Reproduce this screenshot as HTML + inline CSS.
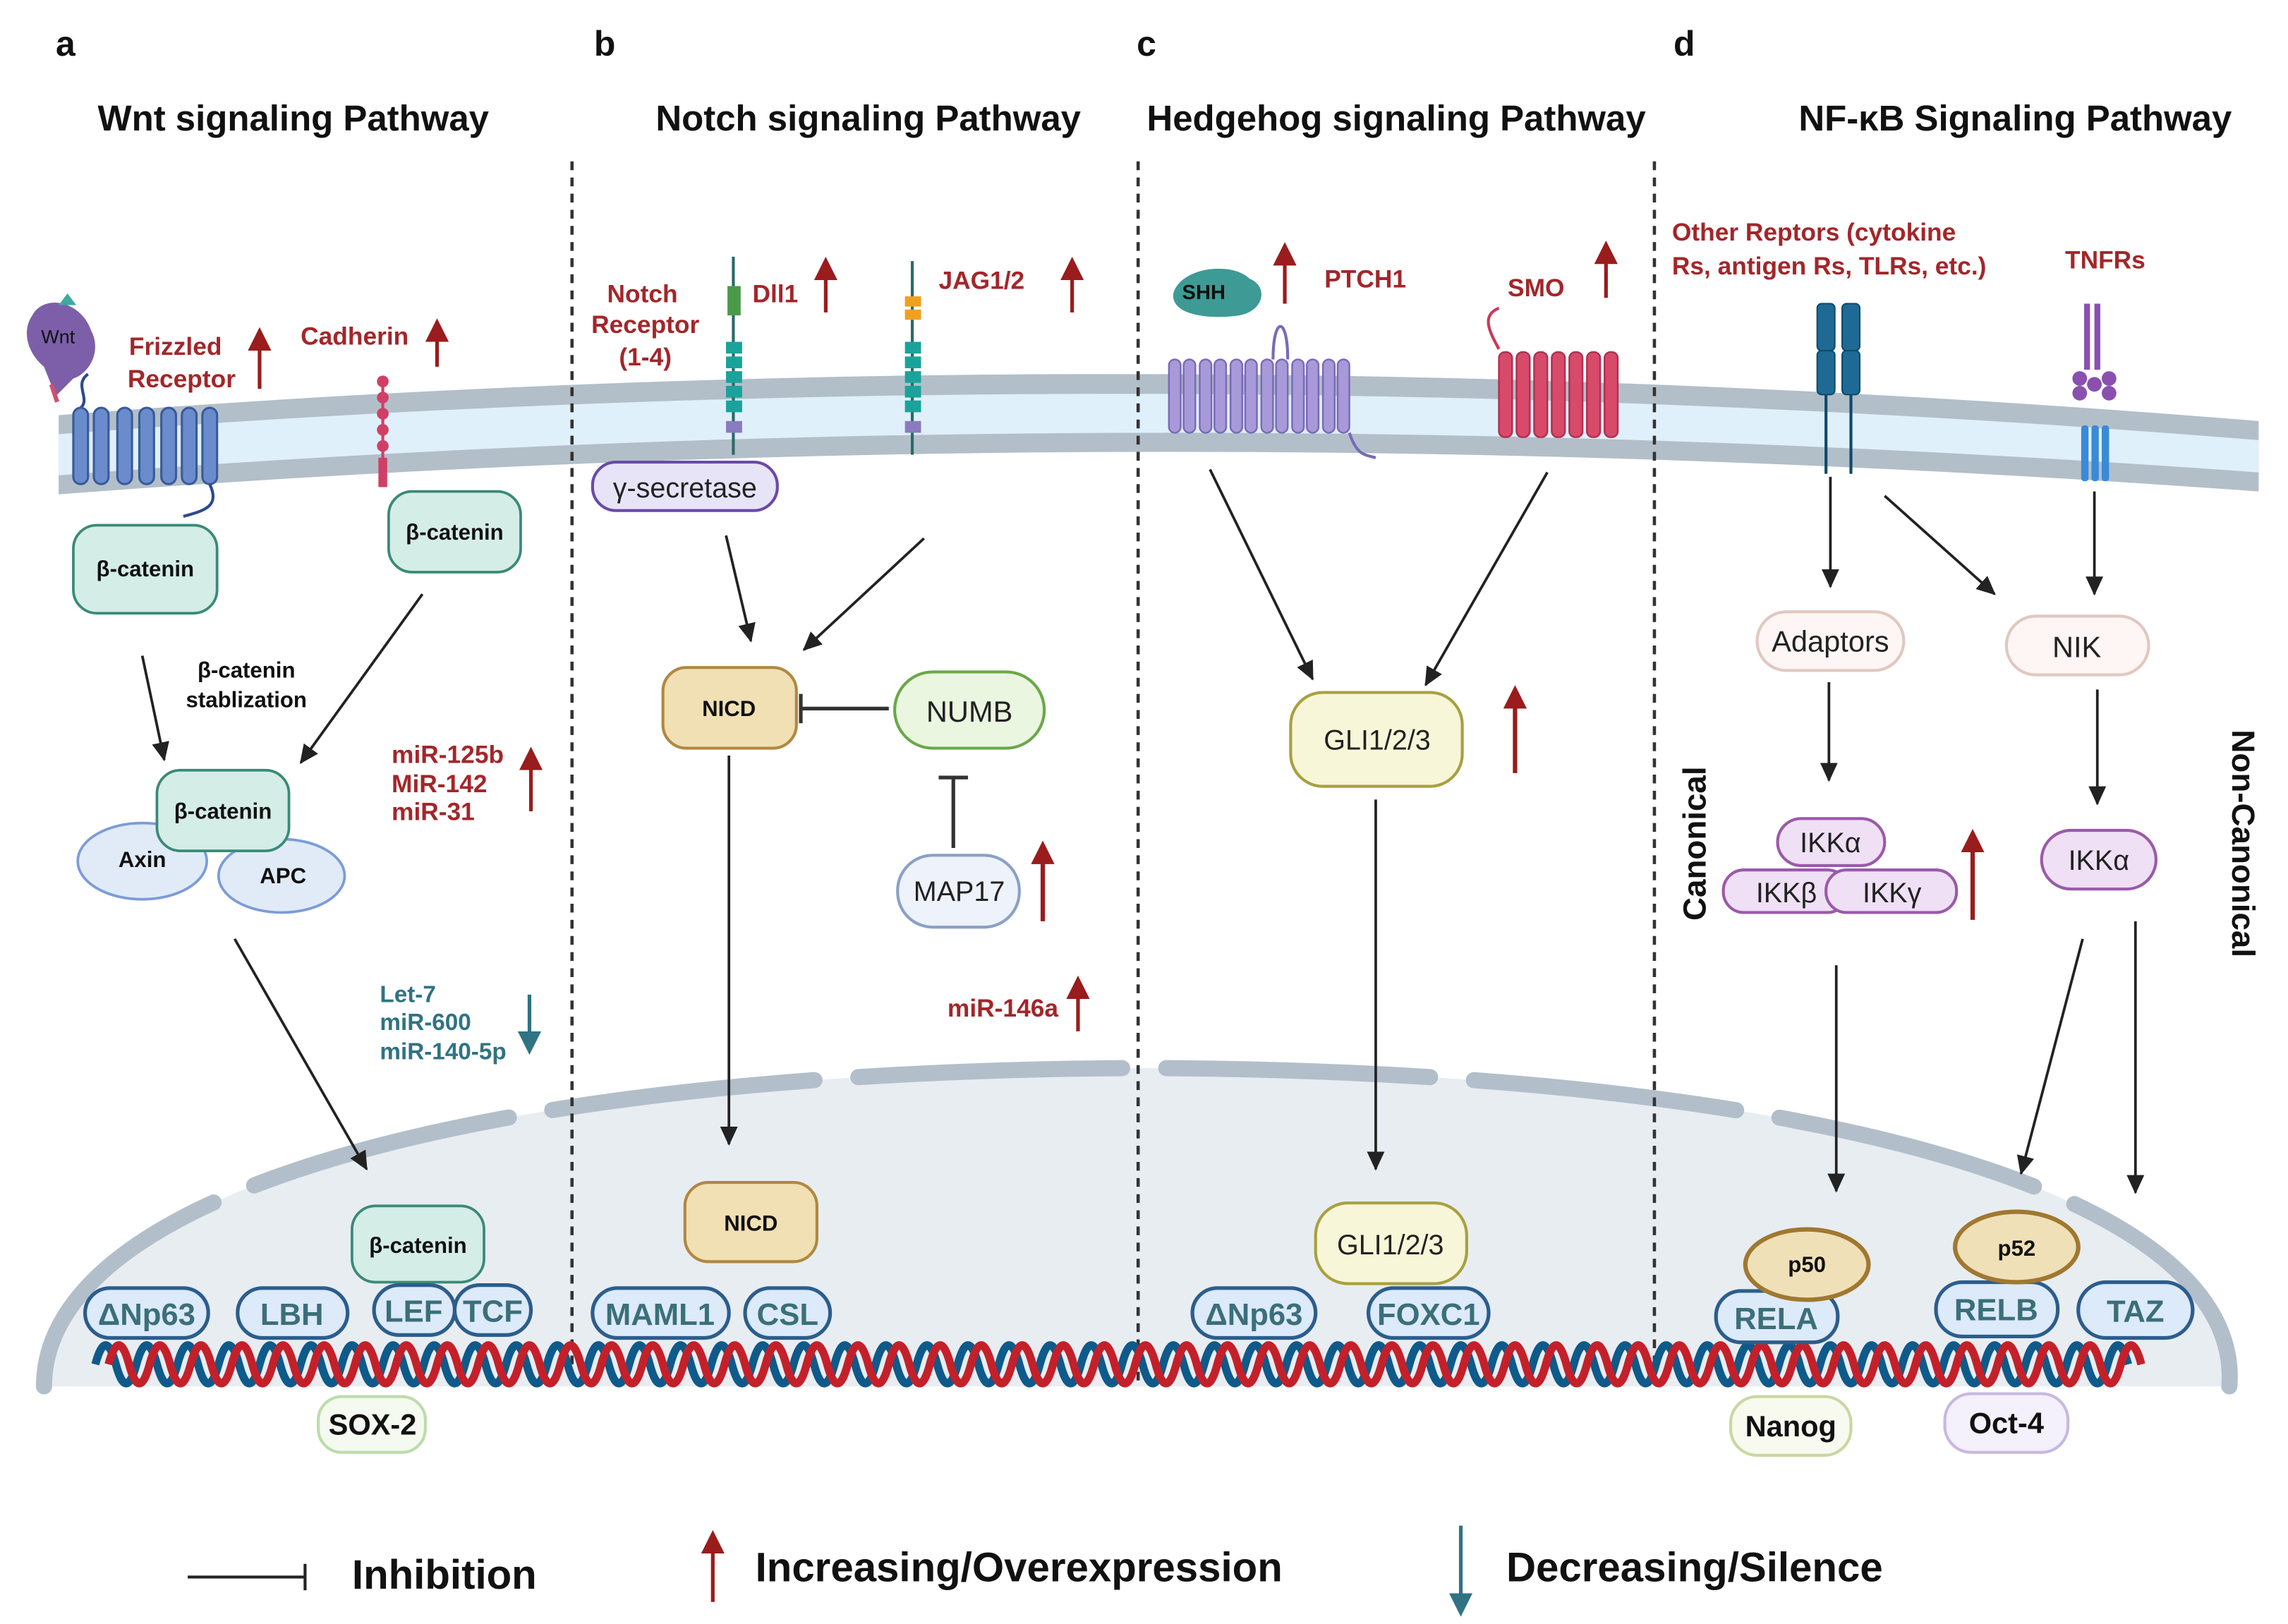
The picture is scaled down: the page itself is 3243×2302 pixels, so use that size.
<!DOCTYPE html>
<html><head><meta charset="utf-8"><style>
html,body{margin:0;padding:0;background:#fff}
svg{display:block}
text{font-family:"Liberation Sans",sans-serif}
.b{font-weight:bold}
.red{fill:#a3262a;font-weight:bold;font-size:17px}
</style></head><body>
<svg width="3243" height="2302" viewBox="0 0 1560 1107" preserveAspectRatio="none" xmlns="http://www.w3.org/2000/svg">
<defs>
<marker id="ah2" markerWidth="14" markerHeight="14" refX="12" refY="7" orient="auto" markerUnits="userSpaceOnUse"><path d="M0,1 L13,7 L0,13 Z" fill="#222"/></marker>
<marker id="rh" markerWidth="16" markerHeight="16" refX="13" refY="8" orient="auto" markerUnits="userSpaceOnUse"><path d="M0,0 L16,8 L0,16 Z" fill="#9a1c1c"/></marker>
<marker id="th" markerWidth="16" markerHeight="16" refX="13" refY="8" orient="auto" markerUnits="userSpaceOnUse"><path d="M0,0 L16,8 L0,16 Z" fill="#2f7384"/></marker>
</defs>
<rect width="1560" height="1107" fill="#fff"/>

<!-- nucleus -->
<path d="M30,945 C30,820 300,730 780,728 C1260,730 1530,820 1520,945 Z" fill="#e8edf2"/>
<path d="M30,945 C30,820 300,730 780,728 C1260,730 1530,820 1520,945" fill="none" stroke="#b2bfca" stroke-width="11" stroke-dasharray="180,30" stroke-linecap="round"/>

<!-- membrane -->
<path d="M40,283 Q780,225 1540,287 L1540,335 Q780,280 40,337 Z" fill="#b2bfc9"/>
<path d="M40,296 Q780,239 1540,300 L1540,322 Q780,267 40,324 Z" fill="#dff0fb"/>

<!-- dotted separators -->
<g stroke="#333" stroke-width="2.2" stroke-dasharray="6,5">
<line x1="390" y1="110" x2="390" y2="945"/><line x1="776" y1="110" x2="776" y2="945"/><line x1="1128" y1="110" x2="1128" y2="945"/>
</g>

<!-- DNA -->
<path d="M65,930 q7,-26 14,0 t14,0 t14,0 t14,0 t14,0 t14,0 t14,0 t14,0 t14,0 t14,0 t14,0 t14,0 t14,0 t14,0 t14,0 t14,0 t14,0 t14,0 t14,0 t14,0 t14,0 t14,0 t14,0 t14,0 t14,0 t14,0 t14,0 t14,0 t14,0 t14,0 t14,0 t14,0 t14,0 t14,0 t14,0 t14,0 t14,0 t14,0 t14,0 t14,0 t14,0 t14,0 t14,0 t14,0 t14,0 t14,0 t14,0 t14,0 t14,0 t14,0 t14,0 t14,0 t14,0 t14,0 t14,0 t14,0 t14,0 t14,0 t14,0 t14,0 t14,0 t14,0 t14,0 t14,0 t14,0 t14,0 t14,0 t14,0 t14,0 t14,0 t14,0 t14,0 t14,0 t14,0 t14,0 t14,0 t14,0 t14,0 t14,0 t14,0 t14,0 t14,0 t14,0 t14,0 t14,0 t14,0 t14,0 t14,0 t14,0 t14,0 t14,0 t14,0 t14,0 t14,0 t14,0 t14,0 t14,0 t14,0 t14,0" fill="none" stroke="#0e5a8a" stroke-width="5.5"/>
<path d="M74,930 q7,-26 14,0 t14,0 t14,0 t14,0 t14,0 t14,0 t14,0 t14,0 t14,0 t14,0 t14,0 t14,0 t14,0 t14,0 t14,0 t14,0 t14,0 t14,0 t14,0 t14,0 t14,0 t14,0 t14,0 t14,0 t14,0 t14,0 t14,0 t14,0 t14,0 t14,0 t14,0 t14,0 t14,0 t14,0 t14,0 t14,0 t14,0 t14,0 t14,0 t14,0 t14,0 t14,0 t14,0 t14,0 t14,0 t14,0 t14,0 t14,0 t14,0 t14,0 t14,0 t14,0 t14,0 t14,0 t14,0 t14,0 t14,0 t14,0 t14,0 t14,0 t14,0 t14,0 t14,0 t14,0 t14,0 t14,0 t14,0 t14,0 t14,0 t14,0 t14,0 t14,0 t14,0 t14,0 t14,0 t14,0 t14,0 t14,0 t14,0 t14,0 t14,0 t14,0 t14,0 t14,0 t14,0 t14,0 t14,0 t14,0 t14,0 t14,0 t14,0 t14,0 t14,0 t14,0 t14,0 t14,0 t14,0 t14,0 t14,0" fill="none" stroke="#c4202a" stroke-width="5.5"/>

<!-- titles -->
<g class="b" font-size="24" fill="#111"><text x="38" y="38">a</text><text x="405" y="38">b</text><text x="775" y="38">c</text><text x="1141" y="38">d</text></g>
<g class="b" font-size="24.5" fill="#111" text-anchor="middle">
<text x="200" y="89">Wnt signaling Pathway</text><text x="592" y="89">Notch signaling Pathway</text>
<text x="952" y="89">Hedgehog signaling Pathway</text><text x="1374" y="89">NF-κB  Signaling Pathway</text></g>

<!-- ===== Panel a ===== -->
<path d="M22,215 C30,200 55,205 62,225 C70,240 60,255 50,258 L38,270 L30,250 C18,240 15,225 22,215 Z" fill="#7c5fa8"/>
<path d="M40,208 l6,-8 l6,8z" fill="#3fa9a0"/>
<path d="M35,262 l4,12" stroke="#d05070" stroke-width="3"/>
<text x="28" y="234" font-size="13" fill="#111">Wnt</text>
<path d="M60,255 C50,262 62,272 55,278" fill="none" stroke="#2c4a90" stroke-width="2"/>
<g fill="#6a8ccc" stroke="#3a5a9a" stroke-width="1.5">
<rect x="50" y="278" width="10" height="52" rx="5"/><rect x="64" y="278" width="10" height="52" rx="5"/><rect x="80" y="278" width="10" height="52" rx="5"/><rect x="95" y="278" width="10" height="52" rx="5"/><rect x="110" y="278" width="10" height="52" rx="5"/><rect x="124" y="278" width="10" height="52" rx="5"/><rect x="138" y="278" width="10" height="52" rx="5"/></g>
<path d="M143,330 C150,345 140,348 125,352" fill="none" stroke="#2c4a90" stroke-width="2"/>
<text class="red" x="88" y="242">Frizzled</text><text class="red" x="87" y="264">Receptor</text>
<line x1="177" y1="265" x2="177" y2="226" stroke="#9a1c1c" stroke-width="2.5" marker-end="url(#rh)"/>
<text class="red" x="205" y="235">Cadherin</text>
<line x1="298" y1="250" x2="298" y2="220" stroke="#9a1c1c" stroke-width="2.5" marker-end="url(#rh)"/>
<line x1="261" y1="258" x2="261" y2="332" stroke="#d04066" stroke-width="2"/>
<g fill="#d04066"><circle cx="261" cy="260" r="4"/><circle cx="261" cy="271" r="4"/><circle cx="261" cy="282" r="4"/><circle cx="261" cy="293" r="4"/><circle cx="261" cy="304" r="4"/><rect x="258" y="312" width="6" height="20"/></g>

<g fill="#d4ede6" stroke="#3a8a78" stroke-width="1.8">
<rect x="50" y="358" width="98" height="60" rx="16"/><rect x="265" y="335" width="90" height="55" rx="16"/>
<ellipse cx="97" cy="587" rx="44" ry="26" fill="#e1ebf8" stroke="#7c9cd8"/><ellipse cx="192" cy="597" rx="43" ry="25" fill="#e1ebf8" stroke="#7c9cd8"/>
<rect x="107" y="525" width="90" height="55" rx="16"/><rect x="240" y="822" width="90" height="52" rx="16"/></g>
<g class="b" font-size="15" fill="#111" text-anchor="middle">
<text x="99" y="393">β-catenin</text><text x="310" y="368">β-catenin</text><text x="152" y="558">β-catenin</text><text x="285" y="854">β-catenin</text>
<text x="97" y="591">Axin</text><text x="193" y="602">APC</text>
<text x="168" y="462">β-catenin</text><text x="168" y="482">stablization</text></g>
<g stroke="#222" stroke-width="1.8" fill="none" marker-end="url(#ah2)">
<line x1="97" y1="447" x2="112" y2="518"/><line x1="288" y1="405" x2="205" y2="520"/><line x1="160" y1="640" x2="250" y2="797"/></g>
<g class="red" font-size="16"><text x="267" y="520">miR-125b</text><text x="267" y="540">MiR-142</text><text x="267" y="559">miR-31</text></g>
<line x1="362" y1="553" x2="362" y2="512" stroke="#9a1c1c" stroke-width="2.5" marker-end="url(#rh)"/>
<g font-size="16" font-weight="bold" fill="#2f7384"><text x="259" y="683">Let-7</text><text x="259" y="702">miR-600</text><text x="259" y="722">miR-140-5p</text></g>
<line x1="361" y1="678" x2="361" y2="716" stroke="#2f7384" stroke-width="2.5" marker-end="url(#th)"/>

<g fill="#dceafa" stroke="#2c5d8c" stroke-width="2.5">
<rect x="58" y="878" width="84" height="34" rx="17"/><rect x="162" y="878" width="75" height="34" rx="17"/>
<rect x="255" y="876" width="55" height="34" rx="17"/><rect x="310" y="876" width="52" height="34" rx="17"/>
<rect x="404" y="878" width="93" height="34" rx="17"/><rect x="508" y="878" width="58" height="34" rx="17"/>
<rect x="813" y="878" width="84" height="34" rx="17"/><rect x="933" y="878" width="82" height="34" rx="17"/>
<rect x="1170" y="880" width="83" height="35" rx="17"/><rect x="1320" y="874" width="83" height="37" rx="18"/><rect x="1417" y="874" width="78" height="38" rx="19"/></g>
<g font-size="21" fill="#3b6f7a" text-anchor="middle" class="b">
<text x="100" y="903">ΔNp63</text><text x="199" y="903">LBH</text><text x="282" y="901">LEF</text><text x="336" y="901">TCF</text>
<text x="450" y="903">MAML1</text><text x="537" y="903">CSL</text>
<text x="855" y="903">ΔNp63</text><text x="974" y="903">FOXC1</text>
<text x="1211" y="906">RELA</text><text x="1361" y="900">RELB</text><text x="1456" y="901">TAZ</text></g>
<rect x="217" y="952" width="73" height="38" rx="16" fill="#f4faf0" stroke="#bcdcaa" stroke-width="2"/>
<text x="254" y="978" class="b" font-size="20" text-anchor="middle" fill="#111">SOX-2</text>

<!-- ===== Panel b ===== -->
<g class="red" text-anchor="middle"><text x="438" y="206">Notch</text><text x="440" y="227">Receptor</text><text x="440" y="249">(1-4)</text></g>
<line x1="500" y1="175" x2="500" y2="310" stroke="#2a6a6a" stroke-width="2"/>
<rect x="496" y="195" width="9" height="20" fill="#4a9a4a"/>
<g fill="#1aa39a"><rect x="495" y="233" width="11" height="8"/><rect x="495" y="243" width="11" height="8"/><rect x="495" y="253" width="11" height="8"/><rect x="495" y="263" width="11" height="8"/><rect x="495" y="273" width="11" height="8"/></g>
<rect x="495" y="287" width="11" height="8" fill="#8a7ac0"/>
<text class="red" x="513" y="206">Dll1</text>
<line x1="563" y1="213" x2="563" y2="178" stroke="#9a1c1c" stroke-width="2.5" marker-end="url(#rh)"/>
<line x1="622" y1="178" x2="622" y2="310" stroke="#2a6a6a" stroke-width="2"/>
<g fill="#f0a020"><rect x="617" y="202" width="11" height="7"/><rect x="617" y="211" width="11" height="7"/></g>
<g fill="#1aa39a"><rect x="617" y="233" width="11" height="8"/><rect x="617" y="243" width="11" height="8"/><rect x="617" y="253" width="11" height="8"/><rect x="617" y="263" width="11" height="8"/><rect x="617" y="273" width="11" height="8"/></g>
<rect x="617" y="287" width="11" height="8" fill="#8a7ac0"/>
<text class="red" x="640" y="197">JAG1/2</text>
<line x1="731" y1="213" x2="731" y2="178" stroke="#9a1c1c" stroke-width="2.5" marker-end="url(#rh)"/>
<rect x="404" y="315" width="126" height="33" rx="16" fill="#e8e4f8" stroke="#6a4aa8" stroke-width="2"/>
<text x="467" y="339" font-size="19" text-anchor="middle" fill="#222">γ-secretase</text>
<g stroke="#222" stroke-width="1.8" fill="none" marker-end="url(#ah2)">
<line x1="495" y1="365" x2="512" y2="437"/><line x1="630" y1="367" x2="548" y2="443"/><line x1="497" y1="515" x2="497" y2="780"/></g>
<rect x="452" y="455" width="91" height="55" rx="16" fill="#f1e0b4" stroke="#b08840" stroke-width="2"/>
<rect x="467" y="806" width="90" height="54" rx="16" fill="#f1e0b4" stroke="#b08840" stroke-width="2"/>
<g class="b" font-size="15" text-anchor="middle" fill="#111"><text x="497" y="488">NICD</text><text x="512" y="839">NICD</text></g>
<line x1="606" y1="483" x2="546" y2="483" stroke="#333" stroke-width="2.5"/><line x1="546" y1="473" x2="546" y2="493" stroke="#333" stroke-width="2.5"/>
<rect x="610" y="458" width="102" height="52" rx="26" fill="#eaf6e0" stroke="#6aa84a" stroke-width="2"/>
<text x="661" y="492" font-size="20" text-anchor="middle" fill="#222">NUMB</text>
<line x1="650" y1="578" x2="650" y2="530" stroke="#333" stroke-width="2.5"/><line x1="640" y1="530" x2="660" y2="530" stroke="#333" stroke-width="2.5"/>
<rect x="612" y="583" width="83" height="49" rx="24" fill="#eef2fa" stroke="#8aa0c8" stroke-width="2"/>
<text x="654" y="614" font-size="19" text-anchor="middle" fill="#222">MAP17</text>
<line x1="711" y1="628" x2="711" y2="576" stroke="#9a1c1c" stroke-width="3" marker-end="url(#rh)"/>
<text class="red" x="646" y="693" font-size="16">miR-146a</text>
<line x1="735" y1="703" x2="735" y2="668" stroke="#9a1c1c" stroke-width="2.5" marker-end="url(#rh)"/>

<!-- ===== Panel c ===== -->
<path d="M800,200 C805,182 840,178 852,190 C865,195 862,212 845,215 C825,218 798,215 800,200 Z" fill="#3e9a94"/>
<text x="806" y="204" font-size="14" class="b" fill="#111">SHH</text>
<line x1="876" y1="207" x2="876" y2="168" stroke="#9a1c1c" stroke-width="2.5" marker-end="url(#rh)"/>
<text class="red" x="903" y="196">PTCH1</text>
<g fill="#a89ad8" stroke="#7a6ab8" stroke-width="1.2">
<rect x="797" y="245" width="8" height="50" rx="4"/><rect x="807" y="245" width="8" height="50" rx="4"/><rect x="818" y="245" width="8" height="50" rx="4"/><rect x="828" y="245" width="8" height="50" rx="4"/><rect x="839" y="245" width="8" height="50" rx="4"/><rect x="849" y="245" width="8" height="50" rx="4"/><rect x="860" y="245" width="8" height="50" rx="4"/><rect x="870" y="245" width="8" height="50" rx="4"/><rect x="881" y="245" width="8" height="50" rx="4"/><rect x="891" y="245" width="8" height="50" rx="4"/><rect x="902" y="245" width="8" height="50" rx="4"/><rect x="912" y="245" width="8" height="50" rx="4"/></g>
<path d="M868,245 C868,215 878,215 878,245 M920,295 C925,310 930,310 938,312" fill="none" stroke="#7a6ab8" stroke-width="2"/>
<text class="red" x="1028" y="202">SMO</text>
<line x1="1095" y1="203" x2="1095" y2="167" stroke="#9a1c1c" stroke-width="2.5" marker-end="url(#rh)"/>
<path d="M1022,238 C1015,225 1010,215 1022,210" fill="none" stroke="#c83a5a" stroke-width="2"/>
<g fill="#d84a6a" stroke="#b03050" stroke-width="1.2">
<rect x="1022" y="240" width="9" height="58" rx="4"/><rect x="1034" y="240" width="9" height="58" rx="4"/><rect x="1046" y="240" width="9" height="58" rx="4"/><rect x="1058" y="240" width="9" height="58" rx="4"/><rect x="1070" y="240" width="9" height="58" rx="4"/><rect x="1082" y="240" width="9" height="58" rx="4"/><rect x="1094" y="240" width="9" height="58" rx="4"/></g>
<g stroke="#222" stroke-width="1.8" fill="none" marker-end="url(#ah2)">
<line x1="825" y1="320" x2="895" y2="463"/><line x1="1055" y1="322" x2="972" y2="467"/><line x1="938" y1="545" x2="938" y2="797"/></g>
<rect x="880" y="472" width="117" height="64" rx="22" fill="#f8f6d8" stroke="#a8a040" stroke-width="2"/>
<text x="939" y="511" font-size="19" text-anchor="middle" fill="#222">GLI1/2/3</text>
<line x1="1033" y1="527" x2="1033" y2="470" stroke="#9a1c1c" stroke-width="3" marker-end="url(#rh)"/>
<rect x="897" y="820" width="103" height="55" rx="22" fill="#f8f6d8" stroke="#a8a040" stroke-width="2"/>
<text x="948" y="855" font-size="19" text-anchor="middle" fill="#222">GLI1/2/3</text>

<!-- ===== Panel d ===== -->
<g class="red"><text x="1140" y="164">Other Reptors (cytokine</text><text x="1140" y="187">Rs, antigen Rs, TLRs, etc.)</text><text x="1408" y="183">TNFRs</text></g>
<g fill="#1e6a94" stroke="#0e4a6a" stroke-width="1"><rect x="1239" y="207" width="12" height="32" rx="3"/><rect x="1256" y="207" width="12" height="32" rx="3"/><rect x="1239" y="239" width="12" height="30" rx="3"/><rect x="1256" y="239" width="12" height="30" rx="3"/></g>
<g stroke="#0e4a6a" stroke-width="2"><line x1="1245" y1="269" x2="1245" y2="323"/><line x1="1262" y1="269" x2="1262" y2="323"/></g>
<g fill="#8a50b0"><rect x="1421" y="207" width="4" height="45"/><rect x="1428" y="207" width="4" height="45"/><circle cx="1418" cy="258" r="5"/><circle cx="1428" cy="262" r="5"/><circle cx="1438" cy="258" r="5"/><circle cx="1418" cy="268" r="5"/><circle cx="1438" cy="268" r="5"/></g>
<g fill="#3a8ad8"><rect x="1419" y="290" width="5" height="38" rx="2"/><rect x="1426" y="290" width="5" height="38" rx="2"/><rect x="1433" y="290" width="5" height="38" rx="2"/></g>
<g stroke="#222" stroke-width="1.8" fill="none" marker-end="url(#ah2)">
<line x1="1248" y1="325" x2="1248" y2="400"/><line x1="1285" y1="338" x2="1360" y2="405"/><line x1="1428" y1="335" x2="1428" y2="405"/>
<line x1="1247" y1="465" x2="1247" y2="532"/><line x1="1430" y1="470" x2="1430" y2="548"/>
<line x1="1252" y1="658" x2="1252" y2="812"/><line x1="1420" y1="640" x2="1378" y2="800"/><line x1="1456" y1="628" x2="1456" y2="813"/></g>
<rect x="1198" y="417" width="100" height="40" rx="20" fill="#fdf6f4" stroke="#e0c8c0" stroke-width="2"/>
<rect x="1368" y="420" width="97" height="40" rx="20" fill="#fdf6f4" stroke="#e0c8c0" stroke-width="2"/>
<g font-size="20" text-anchor="middle" fill="#222"><text x="1248" y="444">Adaptors</text><text x="1416" y="448">NIK</text></g>
<g fill="#efe0f5" stroke="#9a5aaa" stroke-width="2">
<rect x="1212" y="558" width="73" height="32" rx="16"/><rect x="1175" y="593" width="85" height="29" rx="14"/><rect x="1245" y="593" width="89" height="29" rx="14"/><rect x="1392" y="566" width="78" height="40" rx="20"/></g>
<g font-size="19" text-anchor="middle" fill="#222"><text x="1248" y="581">IKKα</text><text x="1218" y="615">IKKβ</text><text x="1290" y="615">IKKγ</text><text x="1431" y="593">IKKα</text></g>
<line x1="1345" y1="627" x2="1345" y2="568" stroke="#9a1c1c" stroke-width="3" marker-end="url(#rh)"/>
<text transform="translate(1163,575) rotate(-90)" text-anchor="middle" class="b" font-size="22" fill="#111">Canonical</text>
<text transform="translate(1522,575) rotate(90)" text-anchor="middle" class="b" font-size="22" fill="#111">Non-Canonical</text>
<ellipse cx="1232" cy="862" rx="42" ry="24" fill="#f0e0b8" stroke="#a07830" stroke-width="3"/>
<ellipse cx="1375" cy="850" rx="42" ry="24" fill="#f0e0b8" stroke="#a07830" stroke-width="3"/>
<g class="b" font-size="15" text-anchor="middle" fill="#111"><text x="1232" y="867">p50</text><text x="1375" y="856">p52</text></g>
<rect x="1180" y="952" width="82" height="40" rx="18" fill="#f8faf0" stroke="#c8d8a0" stroke-width="2"/>
<rect x="1326" y="950" width="84" height="40" rx="18" fill="#f4f0fc" stroke="#c8b8e0" stroke-width="2"/>
<g class="b" font-size="20" text-anchor="middle" fill="#111"><text x="1221" y="979">Nanog</text><text x="1368" y="977">Oct-4</text></g>

<!-- legend -->
<line x1="128" y1="1075" x2="208" y2="1075" stroke="#222" stroke-width="2"/><line x1="208" y1="1066" x2="208" y2="1084" stroke="#222" stroke-width="2"/>
<text x="240" y="1083" class="b" font-size="28" fill="#111">Inhibition</text>
<line x1="486" y1="1092" x2="486" y2="1046" stroke="#9a1c1c" stroke-width="2.5" marker-end="url(#rh)"/>
<text x="515" y="1078" class="b" font-size="28" fill="#111">Increasing/Overexpression</text>
<line x1="996" y1="1040" x2="996" y2="1099" stroke="#2f7384" stroke-width="2.5" marker-end="url(#th)"/>
<text x="1027" y="1078" class="b" font-size="28" fill="#111">Decreasing/Silence</text>
</svg>
</body></html>
